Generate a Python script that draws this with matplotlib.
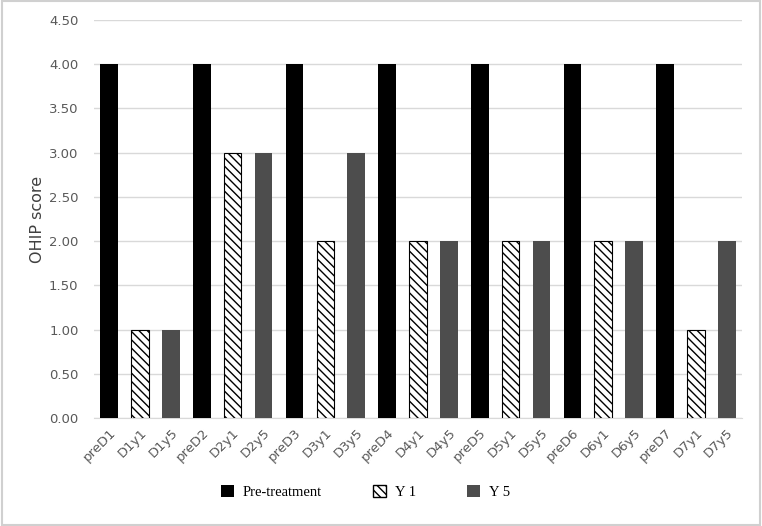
import matplotlib.pyplot as plt
from matplotlib.patches import Patch

# OHIP scores per patient: pre-treatment, year 1, year 5
labels = ['preD1', 'D1y1', 'D1y5', 'preD2', 'D2y1', 'D2y5', 'preD3', 'D3y1', 'D3y5',
          'preD4', 'D4y1', 'D4y5', 'preD5', 'D5y1', 'D5y5', 'preD6', 'D6y1', 'D6y5',
          'preD7', 'D7y1', 'D7y5']
pre = [4, 4, 4, 4, 4, 4, 4]
y1 = [1, 3, 2, 2, 2, 2, 1]
y5 = [1, 3, 3, 2, 2, 2, 2]

values = []
for a, b, c in zip(pre, y1, y5):
    values += [a, b, c]

plt.rcParams['hatch.linewidth'] = 1.0

fig = plt.figure(figsize=(7.62, 5.26), dpi=100)
ax = fig.add_axes([0.123, 0.205, 0.851, 0.757])

x = range(len(labels))
for i, v in zip(x, values):
    kind = i % 3
    if kind == 0:
        ax.bar(i, v, width=0.57, color='black', zorder=3)
    elif kind == 1:
        ax.bar(i, v, width=0.57, color='white', edgecolor='black', hatch='\\\\\\\\',
               linewidth=0.8, zorder=3)
    else:
        ax.bar(i, v, width=0.57, color='#4d4d4d', zorder=3)

ax.set_xlim(-0.5, len(labels) - 0.5)
ax.set_ylim(0, 4.5)
ax.set_yticks([i * 0.5 for i in range(10)])
ax.set_yticklabels(['%.2f' % (i * 0.5) for i in range(10)], color='#595959', fontsize=9.5)
ax.set_xticks(list(x))
ax.set_xticklabels(labels, rotation=45, ha='right', rotation_mode='anchor',
                   color='#595959', fontsize=9.5)
ax.tick_params(axis='x', length=0, pad=6)
ax.tick_params(axis='y', length=0, pad=11)
ax.grid(axis='y', color='#d9d9d9', linewidth=1, zorder=0)
for s in ['top', 'right', 'left']:
    ax.spines[s].set_visible(False)
ax.spines['bottom'].set_color('#d9d9d9')
ax.set_ylabel('OHIP score', fontsize=11.5, color='#404040', labelpad=3)

handles = [Patch(facecolor='black', label='Pre-treatment'),
           Patch(facecolor='white', edgecolor='black', hatch='\\\\\\\\', label='Y 1'),
           Patch(facecolor='#4d4d4d', label='Y 5')]
fig.legend(handles=handles, loc='center', bbox_to_anchor=(0.48, 0.065), ncol=3,
           frameon=False, prop={'family': 'Liberation Serif', 'size': 10.5},
           handlelength=0.9, handleheight=0.9, columnspacing=3.5, handletextpad=0.6)

fig.patches.append(plt.Rectangle((0.002, 0.002), 0.996, 0.996, transform=fig.transFigure,
                                 fill=False, edgecolor='#d0d0d0', linewidth=1.5))

plt.savefig('out.png', dpi=100)
